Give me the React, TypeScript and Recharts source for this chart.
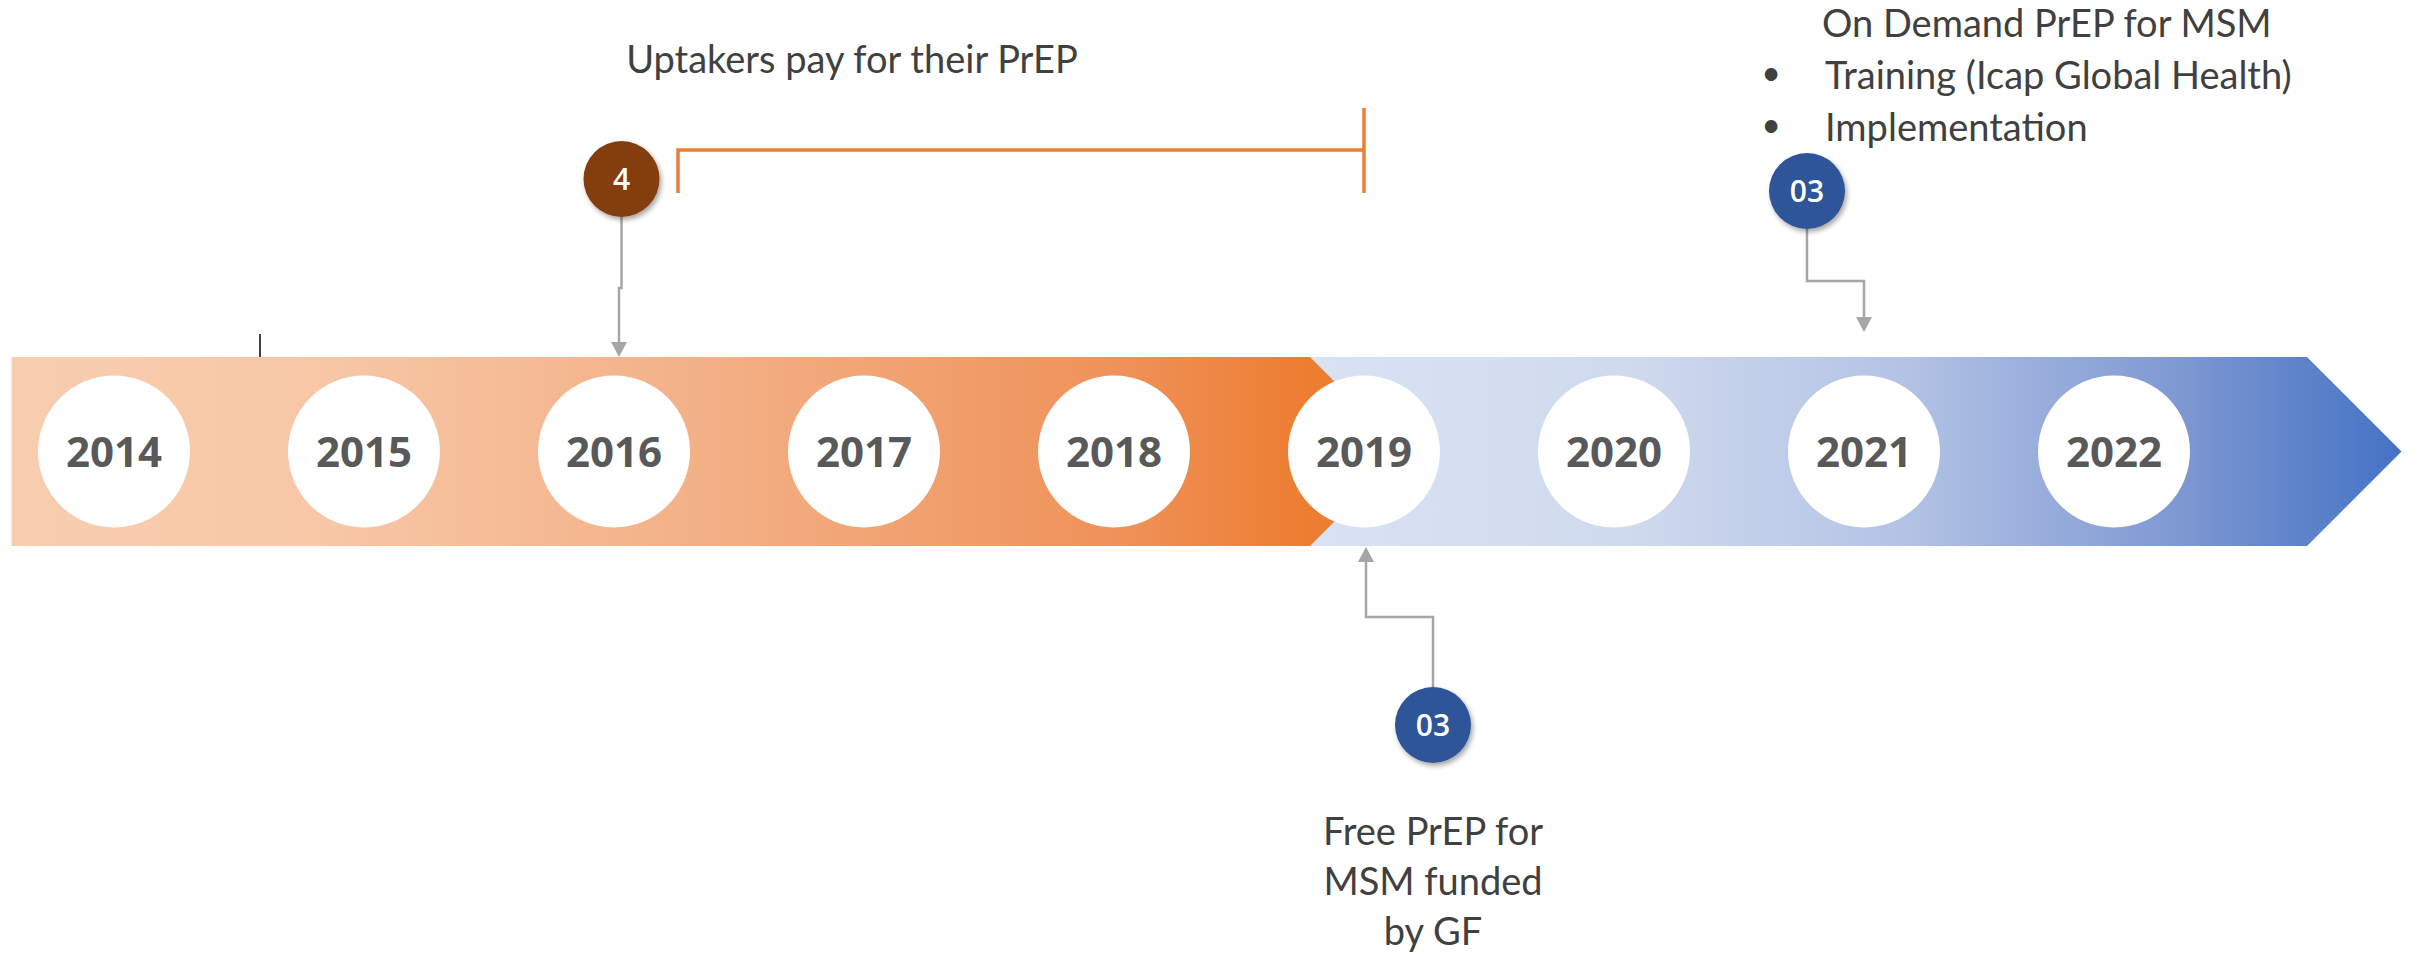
import React from 'react';
import { ComposedChart, XAxis, YAxis, Scatter, Line, ReferenceArea, ReferenceLine } from 'recharts';

// ---------- data ----------
const years = [2014, 2015, 2016, 2017, 2018, 2019, 2020, 2021, 2022];
const yearLabels = ['2014', '2015', '2016', '2017', '2018', '2019', '2020', '2021', '2022'];

// band phases (in years)
const bandStart = 2013.59;
const phaseChange = 2018.784; // paid PrEP -> free PrEP
const bandEnd = 2022.772;

// events
const markerYears = [2016.03, 2019.276, 2020.772];
const markerTexts = ['4', '03', '03'];
const targetYears = [2016.02, 2019.008, 2021.0];

// period bracket "Uptakers pay"
const periodStart = 2016.256;
const periodEnd = 2019.0;

// texts
const uptakeLines = ['Uptakers pay for their PrEP'];
const freeLines = ['Free PrEP for', 'MSM funded', 'by GF'];
const onDemandTitle = 'On Demand PrEP for MSM';
const onDemandBullets = ['Training (Icap Global Health)', 'Implementation'];
const strayTickYear = 2014.584;

// ---------- layout / style ----------
const W = 2420;
const H = 957;
const X0 = 2014 - 114 / 250;
const X1 = 2014 + (W - 114) / 250;
const BAND_TOP = 357;
const BAND_BOTTOM = 546;
const BAND_MID = 451.5;
const YEAR_R = 76;
const MARK_R = 38;
const markerY = [179, 725, 191];
const elbowY = [288, 617, 281];
const tipY = [357, 547, 332];
const markerColors = ['#843C0C', '#2F5597', '#2F5597'];
const GRAY = '#A6A6A6';
const ORANGE = '#ED7D31';
const TEXT = '#404040';
const LABEL_FONT = 'Lato, "Open Sans", sans-serif';

const yearData = years.map((yr, i) => ({ x: yr, y: BAND_MID, label: yearLabels[i] }));
const markerData = markerYears.map((yr, i) => ({ x: yr, y: markerY[i], label: markerTexts[i], color: markerColors[i] }));
const arrowData = targetYears.map((yr, i) => ({ x: yr, y: tipY[i], up: tipY[i] > markerY[i] ? false : true }));

const connectors = markerYears.map((m, i) => {
  const down = tipY[i] > markerY[i];
  const s = down ? 1 : -1;
  return [
    { x: m, y: markerY[i] + s * MARK_R },
    { x: m, y: elbowY[i] },
    { x: targetYears[i], y: elbowY[i] },
    { x: targetYears[i], y: tipY[i] - s * 13 },
  ];
});

const bracketA = [
  { x: periodStart, y: 193 },
  { x: periodStart, y: 150 },
  { x: periodEnd, y: 150 },
];
const bracketB = [
  { x: periodEnd, y: 108 },
  { x: periodEnd, y: 193 },
];

const textData = [
  { x: 2016.952, y: 73, lines: uptakeLines, anchor: 'middle', bullet: false },
  { x: markerYears[1], y: 845, lines: freeLines, anchor: 'middle', bullet: false },
  { x: 2020.832, y: 37, lines: [onDemandTitle], anchor: 'start', bullet: false },
  { x: 2020.844, y: 89, lines: onDemandBullets, anchor: 'start', bullet: true },
];

const chevron = (fill: string) => (props: any) => {
  const { x, y, width, height } = props;
  const h2 = height / 2;
  return (
    <path
      d={`M${x},${y} L${x + width},${y} L${x + width + h2},${y + h2} L${x + width},${y + height} L${x},${y + height} Z`}
      fill={fill}
    />
  );
};

const YearShape = (props: any) => {
  const { cx, cy, payload } = props;
  return (
    <g>
      <circle cx={cx} cy={cy} r={YEAR_R} fill="#FFFFFF" />
      <text
        x={cx}
        y={cy + 15}
        textAnchor="middle"
        fontFamily='"Open Sans", sans-serif'
        fontWeight={700}
        fontSize={42}
        fill="#595959"
      >
        {payload.label}
      </text>
    </g>
  );
};

const MarkerShape = (props: any) => {
  const { cx, cy, payload } = props;
  return (
    <g>
      <circle cx={cx} cy={cy} r={MARK_R} fill={payload.color} filter="url(#mkShadow)" />
      <text
        x={cx}
        y={cy + 11}
        textAnchor="middle"
        fontFamily='"Open Sans", sans-serif'
        fontWeight={600}
        fontSize={30}
        fill="#FFFFFF"
      >
        {payload.label}
      </text>
    </g>
  );
};

const ArrowShape = (props: any) => {
  const { cx, cy, payload } = props;
  const s = payload.up ? 1 : -1;
  return <path d={`M${cx},${cy} L${cx - 8},${cy + s * 15} L${cx + 8},${cy + s * 15} Z`} fill={GRAY} />;
};

const TextShape = (props: any) => {
  const { cx, cy, payload } = props;
  const lh = payload.bullet ? 52 : 50;
  return (
    <g>
      {payload.lines.map((l: string, i: number) => (
        <g key={i}>
          {payload.bullet && (
            <text x={cx - 54} y={cy + i * lh - 4} fontFamily={LABEL_FONT} fontSize={34} fill={TEXT} textAnchor="middle">
              •
            </text>
          )}
          <text
            x={cx}
            y={cy + i * lh}
            textAnchor={payload.anchor}
            fontFamily={LABEL_FONT}
            fontSize={38}
            fill={TEXT}
          >
            {l}
          </text>
        </g>
      ))}
    </g>
  );
};

export default function App() {
  return (
    <div style={{ position: 'fixed', left: 0, top: 0, width: W, height: H, background: '#FFFFFF' }}>
      <ComposedChart width={W} height={H} margin={{ top: 0, right: 0, bottom: 0, left: 0 }}>
        <defs>
          <linearGradient id="gOrange" x1="0" y1="0" x2="1" y2="0">
            <stop offset="0" stopColor="#F8CEB0" />
            <stop offset="0.22" stopColor="#F7C7A6" />
            <stop offset="0.5" stopColor="#F3B086" />
            <stop offset="0.8" stopColor="#EF9158" />
            <stop offset="0.93" stopColor="#ED7D31" />
            <stop offset="1" stopColor="#ED7D31" />
          </linearGradient>
          <linearGradient id="gBlue" x1="0" y1="0" x2="1" y2="0">
            <stop offset="0" stopColor="#DAE3F3" />
            <stop offset="0.3" stopColor="#D0DAEE" />
            <stop offset="0.55" stopColor="#B3C3E5" />
            <stop offset="0.8" stopColor="#7E98D2" />
            <stop offset="1" stopColor="#4472C4" />
          </linearGradient>
          <filter id="mkShadow" x="-30%" y="-30%" width="170%" height="170%">
            <feDropShadow dx="2" dy="3" stdDeviation="2.5" floodColor="#000000" floodOpacity="0.35" />
          </filter>
        </defs>
        <XAxis type="number" dataKey="x" domain={[X0, X1]} allowDataOverflow hide />
        <YAxis type="number" dataKey="y" domain={[0, H]} reversed allowDataOverflow hide />

        <ReferenceArea x1={phaseChange - 0.05} x2={bandEnd} y1={BAND_TOP} y2={BAND_BOTTOM} shape={chevron('url(#gBlue)')} ifOverflow="visible" />
        <ReferenceArea x1={bandStart} x2={phaseChange} y1={BAND_TOP} y2={BAND_BOTTOM} shape={chevron('url(#gOrange)')} ifOverflow="visible" />

        <ReferenceLine
          segment={[{ x: strayTickYear, y: 334 }, { x: strayTickYear, y: BAND_TOP }]}
          stroke="#404040"
          strokeWidth={2}
          ifOverflow="visible"
        />

        <Line data={bracketA} dataKey="y" stroke={ORANGE} strokeWidth={3.5} dot={false} isAnimationActive={false} type="linear" />
        <Line data={bracketB} dataKey="y" stroke={ORANGE} strokeWidth={3.5} dot={false} isAnimationActive={false} type="linear" />

        {connectors.map((c, i) => (
          <Line key={i} data={c} dataKey="y" stroke={GRAY} strokeWidth={2.5} dot={false} isAnimationActive={false} type="linear" />
        ))}

        <Scatter data={arrowData} dataKey="y" shape={ArrowShape} isAnimationActive={false} />
        <Scatter data={yearData} dataKey="y" shape={YearShape} isAnimationActive={false} />
        <Scatter data={markerData} dataKey="y" shape={MarkerShape} isAnimationActive={false} />
        <Scatter data={textData} dataKey="y" shape={TextShape} isAnimationActive={false} />
      </ComposedChart>
    </div>
  );
}
